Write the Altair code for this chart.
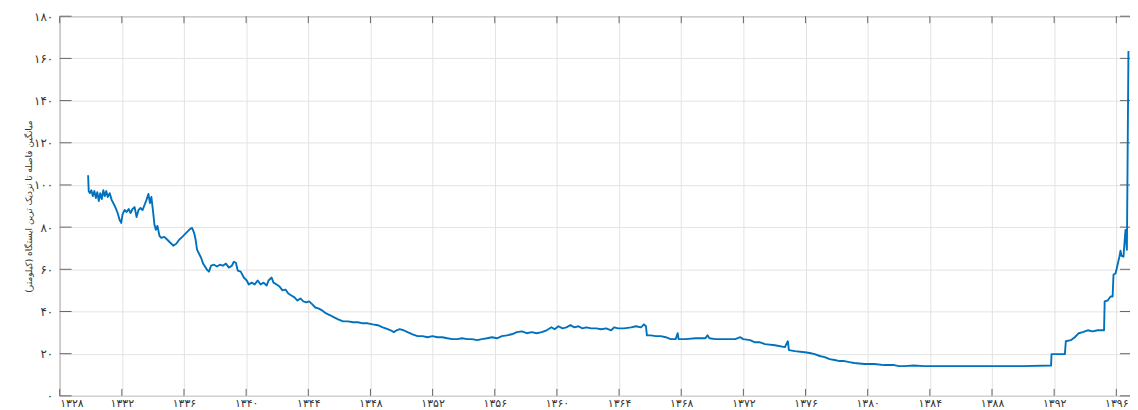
import altair as alt
import pandas as pd

# ---- data ----
years = [1329.83, 1329.87, 1329.94, 1330.04, 1330.13, 1330.23, 1330.33, 1330.42, 1330.52, 1330.61,
         1330.71, 1330.81, 1330.90, 1331.00, 1331.09, 1331.22, 1331.35, 1331.48, 1331.60, 1331.73,
         1331.86, 1331.96, 1332.05, 1332.18, 1332.31, 1332.44, 1332.56, 1332.69, 1332.82, 1332.95,
         1333.07, 1333.20, 1333.33, 1333.46, 1333.58, 1333.71, 1333.81, 1333.90, 1334.00, 1334.10,
         1334.19, 1334.29, 1334.42, 1334.54, 1334.73, 1334.93, 1335.12, 1335.31, 1335.50, 1335.69,
         1335.89, 1336.08, 1336.27, 1336.40, 1336.52, 1336.65, 1336.75, 1336.84, 1336.97, 1337.10,
         1337.23, 1337.35, 1337.48, 1337.61, 1337.74, 1337.93, 1338.12, 1338.31, 1338.50, 1338.70,
         1338.89, 1339.08, 1339.21, 1339.34, 1339.46, 1339.65, 1339.85, 1340.04, 1340.17, 1340.36,
         1340.55, 1340.74, 1340.93, 1341.12, 1341.32, 1341.44, 1341.64, 1341.76, 1341.96, 1342.15,
         1342.34, 1342.53, 1342.72, 1342.91, 1343.11, 1343.30, 1343.49, 1343.68, 1343.87, 1344.06,
         1344.26, 1344.45, 1344.64, 1344.89, 1345.15, 1345.41, 1345.66, 1345.92, 1346.24, 1346.56,
         1346.88, 1347.19, 1347.51, 1347.83, 1348.15, 1348.47, 1348.79, 1349.11, 1349.30, 1349.50,
         1349.69, 1349.88, 1350.13, 1350.39, 1350.71, 1351.03, 1351.35, 1351.67, 1351.99, 1352.31,
         1352.63, 1352.95, 1353.27, 1353.58, 1353.90, 1354.22, 1354.54, 1354.86, 1355.18, 1355.50,
         1355.82, 1356.14, 1356.46, 1356.78, 1357.10, 1357.42, 1357.74, 1358.06, 1358.38, 1358.70,
         1359.02, 1359.34, 1359.65, 1359.85, 1360.10, 1360.36, 1360.61, 1360.87, 1361.12, 1361.38,
         1361.64, 1361.89, 1362.21, 1362.53, 1362.85, 1363.17, 1363.49, 1363.68, 1363.94, 1364.32,
         1364.77, 1365.09, 1365.41, 1365.60, 1365.73, 1365.79, 1366.04, 1366.36, 1366.68, 1367.00,
         1367.32, 1367.64, 1367.77, 1367.83, 1368.28, 1368.92, 1369.56, 1369.69, 1369.81, 1370.20,
         1370.84, 1371.48, 1371.80, 1371.99, 1372.43, 1372.75, 1373.07, 1373.39, 1374.03, 1374.67,
         1374.86, 1374.93, 1375.31, 1375.95, 1376.27, 1376.59, 1376.91, 1377.23, 1377.55, 1377.87,
         1378.19, 1378.50, 1378.82, 1379.14, 1379.78, 1380.42, 1381.06, 1381.70, 1382.02, 1382.34,
         1382.98, 1383.62, 1384.90, 1386.81, 1388.09, 1390.01, 1391.80, 1391.83, 1392.69, 1392.75,
         1393.07, 1393.33, 1393.58, 1393.84, 1394.16, 1394.48, 1394.80, 1395.12, 1395.21, 1395.25,
         1395.44, 1395.63, 1395.76, 1395.82, 1395.95, 1396.08, 1396.20, 1396.27, 1396.33, 1396.46,
         1396.59, 1396.68, 1396.78]

values = [104.6, 97.1, 96.1, 97.5, 94.7, 97.1, 93.8, 96.6, 92.4, 96.1,
          93.3, 97.5, 94.7, 97.1, 94.3, 96.1, 92.8, 91.0, 89.1, 86.7,
          83.4, 82.0, 86.2, 88.1, 87.2, 88.6, 86.7, 88.6, 89.5, 84.8,
          88.1, 89.1, 88.1, 90.5, 92.8, 95.7, 91.4, 94.3, 88.1, 81.1,
          78.7, 80.6, 75.9, 74.9, 75.4, 74.0, 72.6, 71.2, 72.1, 74.0,
          75.4, 76.8, 78.2, 79.2, 79.6, 77.3, 74.0, 69.3, 67.4, 65.5,
          62.7, 61.3, 59.8, 58.9, 61.7, 62.2, 61.3, 62.2, 61.7, 62.7,
          60.8, 61.7, 63.6, 63.1, 59.4, 58.9, 56.1, 54.7, 52.8, 53.7,
          52.8, 54.7, 52.8, 53.7, 52.3, 54.7, 56.1, 53.7, 52.8, 51.8,
          50.0, 50.4, 48.5, 47.6, 46.7, 45.2, 46.2, 44.8, 44.3, 44.8,
          43.4, 41.9, 41.5, 40.5, 39.1, 38.2, 37.2, 36.3, 35.3, 35.3,
          34.9, 34.9, 34.4, 34.4, 33.9, 33.5, 32.5, 31.6, 31.1, 30.2,
          31.1, 31.6, 31.1, 30.2, 29.2, 28.3, 28.3, 27.8, 28.3, 27.8,
          27.8, 27.3, 26.9, 26.9, 27.3, 26.9, 26.9, 26.4, 26.9, 27.3,
          27.8, 27.3, 28.3, 28.7, 29.2, 30.2, 30.6, 29.7, 30.2, 29.7,
          30.2, 31.1, 32.5, 31.6, 33.0, 32.0, 32.5, 33.5, 32.5, 33.0,
          32.0, 32.5, 32.0, 32.0, 31.6, 32.0, 31.1, 32.5, 32.0, 32.0,
          32.5, 33.0, 32.5, 33.9, 33.0, 28.7, 28.7, 28.3, 28.3, 27.8,
          26.9, 26.9, 29.7, 26.9, 26.9, 27.3, 27.3, 28.7, 27.3, 26.9,
          26.9, 26.9, 27.8, 26.9, 26.4, 25.4, 25.4, 24.5, 24.0, 23.1,
          25.9, 21.7, 21.2, 20.7, 20.3, 19.8, 18.9, 18.4, 17.4, 17.0,
          16.5, 16.5, 16.0, 15.6, 15.1, 15.1, 14.6, 14.6, 14.1, 14.1,
          14.4, 14.1, 14.1, 14.1, 14.1, 14.1, 14.4, 19.8, 19.8, 25.9,
          26.4, 27.8, 29.7, 30.2, 31.1, 30.6, 31.1, 31.1, 31.1, 44.8,
          45.2, 47.1, 47.1, 57.5, 58.0, 62.2, 66.0, 68.8, 66.4, 66.0,
          78.7, 69.3, 163.5]

x_ticks = [1328, 1332, 1336, 1340, 1344, 1348, 1352, 1356, 1360,
           1364, 1368, 1372, 1376, 1380, 1384, 1388, 1392, 1396]
x_tick_labels = ["۱۳۲۸", "۱۳۳۲", "۱۳۳۶", "۱۳۴۰", "۱۳۴۴", "۱۳۴۸", "۱۳۵۲", "۱۳۵۶", "۱۳۶۰",
                 "۱۳۶۴", "۱۳۶۸", "۱۳۷۲", "۱۳۷۶", "۱۳۸۰", "۱۳۸۴", "۱۳۸۸", "۱۳۹۲", "۱۳۹۶"]
y_ticks = [0, 20, 40, 60, 80, 100, 120, 140, 160, 180]
y_tick_labels = ["۰", "۲۰", "۴۰", "۶۰", "۸۰", "۱۰۰", "۱۲۰", "۱۴۰", "۱۶۰", "۱۸۰"]
y_title = "میانگین فاصله تا نزدیک ترین ایستگاه (کیلومتر)"

W, H = 1077, 382
FONT = "DejaVu Sans"
TXT = "#333333"
FRAME = "#666666"
GRID = "#e3e3e3"


def label_expr(ticks, labels):
    parts = [f"datum.value == {t} ? '{l}'" for t, l in zip(ticks, labels)]
    return " : ".join(parts) + " : ''"


df = pd.DataFrame({"year": years, "value": values})
xt = pd.DataFrame({"year": x_ticks})
yt = pd.DataFrame({"value": y_ticks})

xscale = alt.Scale(domain=[1328, 1396.88], nice=False, zero=False)
yscale = alt.Scale(domain=[0, 180], nice=False)

x_axis = alt.Axis(
    values=x_ticks, labelExpr=label_expr(x_ticks, x_tick_labels), title=None,
    grid=True, gridColor=GRID, ticks=False, tickSize=0, domain=False,
    labelPadding=2, labelFontSize=11, labelFont=FONT, labelColor=TXT,
    labelBound=False, labelOverlap=False)
y_axis = alt.Axis(
    values=y_ticks, labelExpr=label_expr(y_ticks, y_tick_labels), title=y_title,
    grid=True, gridColor=GRID, ticks=False, tickSize=0, domain=False,
    labelPadding=7, labelFontSize=12, labelFont=FONT, labelColor=TXT,
    titleFont=FONT, titleFontSize=9, titleFontWeight="normal", titleColor=TXT,
    titleX=-31, titleY=H / 2, titleAngle=270, titleAlign="center",
    titleBaseline="middle")

X = alt.X("year:Q", scale=xscale, axis=x_axis)
Y = alt.Y("value:Q", scale=yscale, axis=y_axis)

line = alt.Chart(df).mark_line(color="#0072BD", strokeWidth=1.9, strokeJoin="round",
                               clip=True).encode(x=X, y=Y, order="year:Q")

tick_y_left = alt.Chart(yt).mark_rule(color=FRAME, strokeWidth=1).encode(
    y=Y, x=alt.value(0), x2=alt.value(12))
tick_y_right = alt.Chart(yt).mark_rule(color=FRAME, strokeWidth=1).encode(
    y=Y, x=alt.value(W - 10), x2=alt.value(W))
tick_x_bottom = alt.Chart(xt).mark_rule(color=FRAME, strokeWidth=1).encode(
    x=X, y=alt.value(H - 7), y2=alt.value(H))
tick_x_top = alt.Chart(xt).mark_rule(color=FRAME, strokeWidth=1).encode(
    x=X, y=alt.value(0), y2=alt.value(7))

chart = alt.layer(tick_y_left, tick_y_right, tick_x_bottom, tick_x_top, line).properties(
    width=W, height=H,
    padding={"left": 52, "top": 7, "right": 0, "bottom": 20},
    autosize=alt.AutoSizeParams(type="none"),
    background="white",
).configure_view(stroke=FRAME, strokeWidth=1)

chart.save("out.html", embed_options={"renderer": "svg", "actions": False})
